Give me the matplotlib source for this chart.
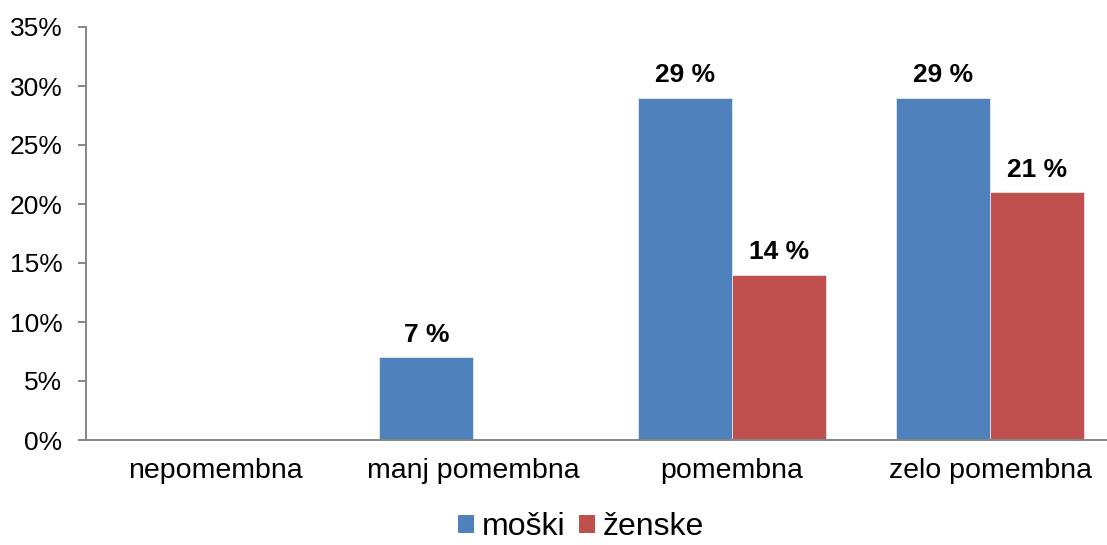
import numpy as np
import matplotlib
matplotlib.use("Agg")
import matplotlib.pyplot as plt
from matplotlib.patches import Patch

plt.rcParams['font.family'] = ['Liberation Sans', 'DejaVu Sans']

# Pomembnost po spolu (v %)
categories = ["nepomembna", "manj pomembna", "pomembna", "zelo pomembna"]
moski = [0, 7, 29, 29]
zenske = [0, 0, 14, 21]
series_names = ["moški", "ženske"]
colors = ["#4F81BD", "#C0504D"]
y_ticks = [0, 5, 10, 15, 20, 25, 30, 35]

W, H = 1107, 545
fig = plt.figure(figsize=(W / 100, H / 100), dpi=100)
ax = fig.add_axes([86 / W, 105 / H, (W - 86) / W, 413 / H])

x = np.arange(len(categories))
w = 0.364
groups = [moski, zenske]
for k, (vals, col) in enumerate(zip(groups, colors)):
    pos = x + (k - 0.5) * w
    ax.bar(pos, vals, width=w, color=col, edgecolor="#e4e8ee", linewidth=0.6)
    for p, v in zip(pos, vals):
        if v > 0:
            ax.text(p, v + 0.9, f"{v} %", ha="center", va="bottom",
                    fontsize=19, fontweight="bold")

ax.set_xlim(-0.5, (W - 86) / 258.3 - 0.5)
ax.set_ylim(0, 35)
ax.set_yticks(y_ticks)
ax.set_yticklabels([f"{t}%" for t in y_ticks])
ax.set_xticks(x)
ax.set_xticklabels(categories)

for side in ["top", "right"]:
    ax.spines[side].set_visible(False)
for side in ["left", "bottom"]:
    ax.spines[side].set_color("#868686")
    ax.spines[side].set_linewidth(1.4)

ax.tick_params(axis="y", length=6, width=1.4, color="#868686", pad=11,
               labelsize=19)
ax.tick_params(axis="x", length=0, pad=13, labelsize=20.5)

handles = [Patch(facecolor=c, label=n) for c, n in zip(colors, series_names)]
fig.legend(handles=handles, loc="center", bbox_to_anchor=(581 / W, 1 - 527 / H),
           ncol=2, frameon=False, fontsize=23, handlelength=0.5,
           handleheight=0.5, handletextpad=0.22, columnspacing=0.45,
           borderpad=0.1)

fig.savefig("out.png", dpi=100)
